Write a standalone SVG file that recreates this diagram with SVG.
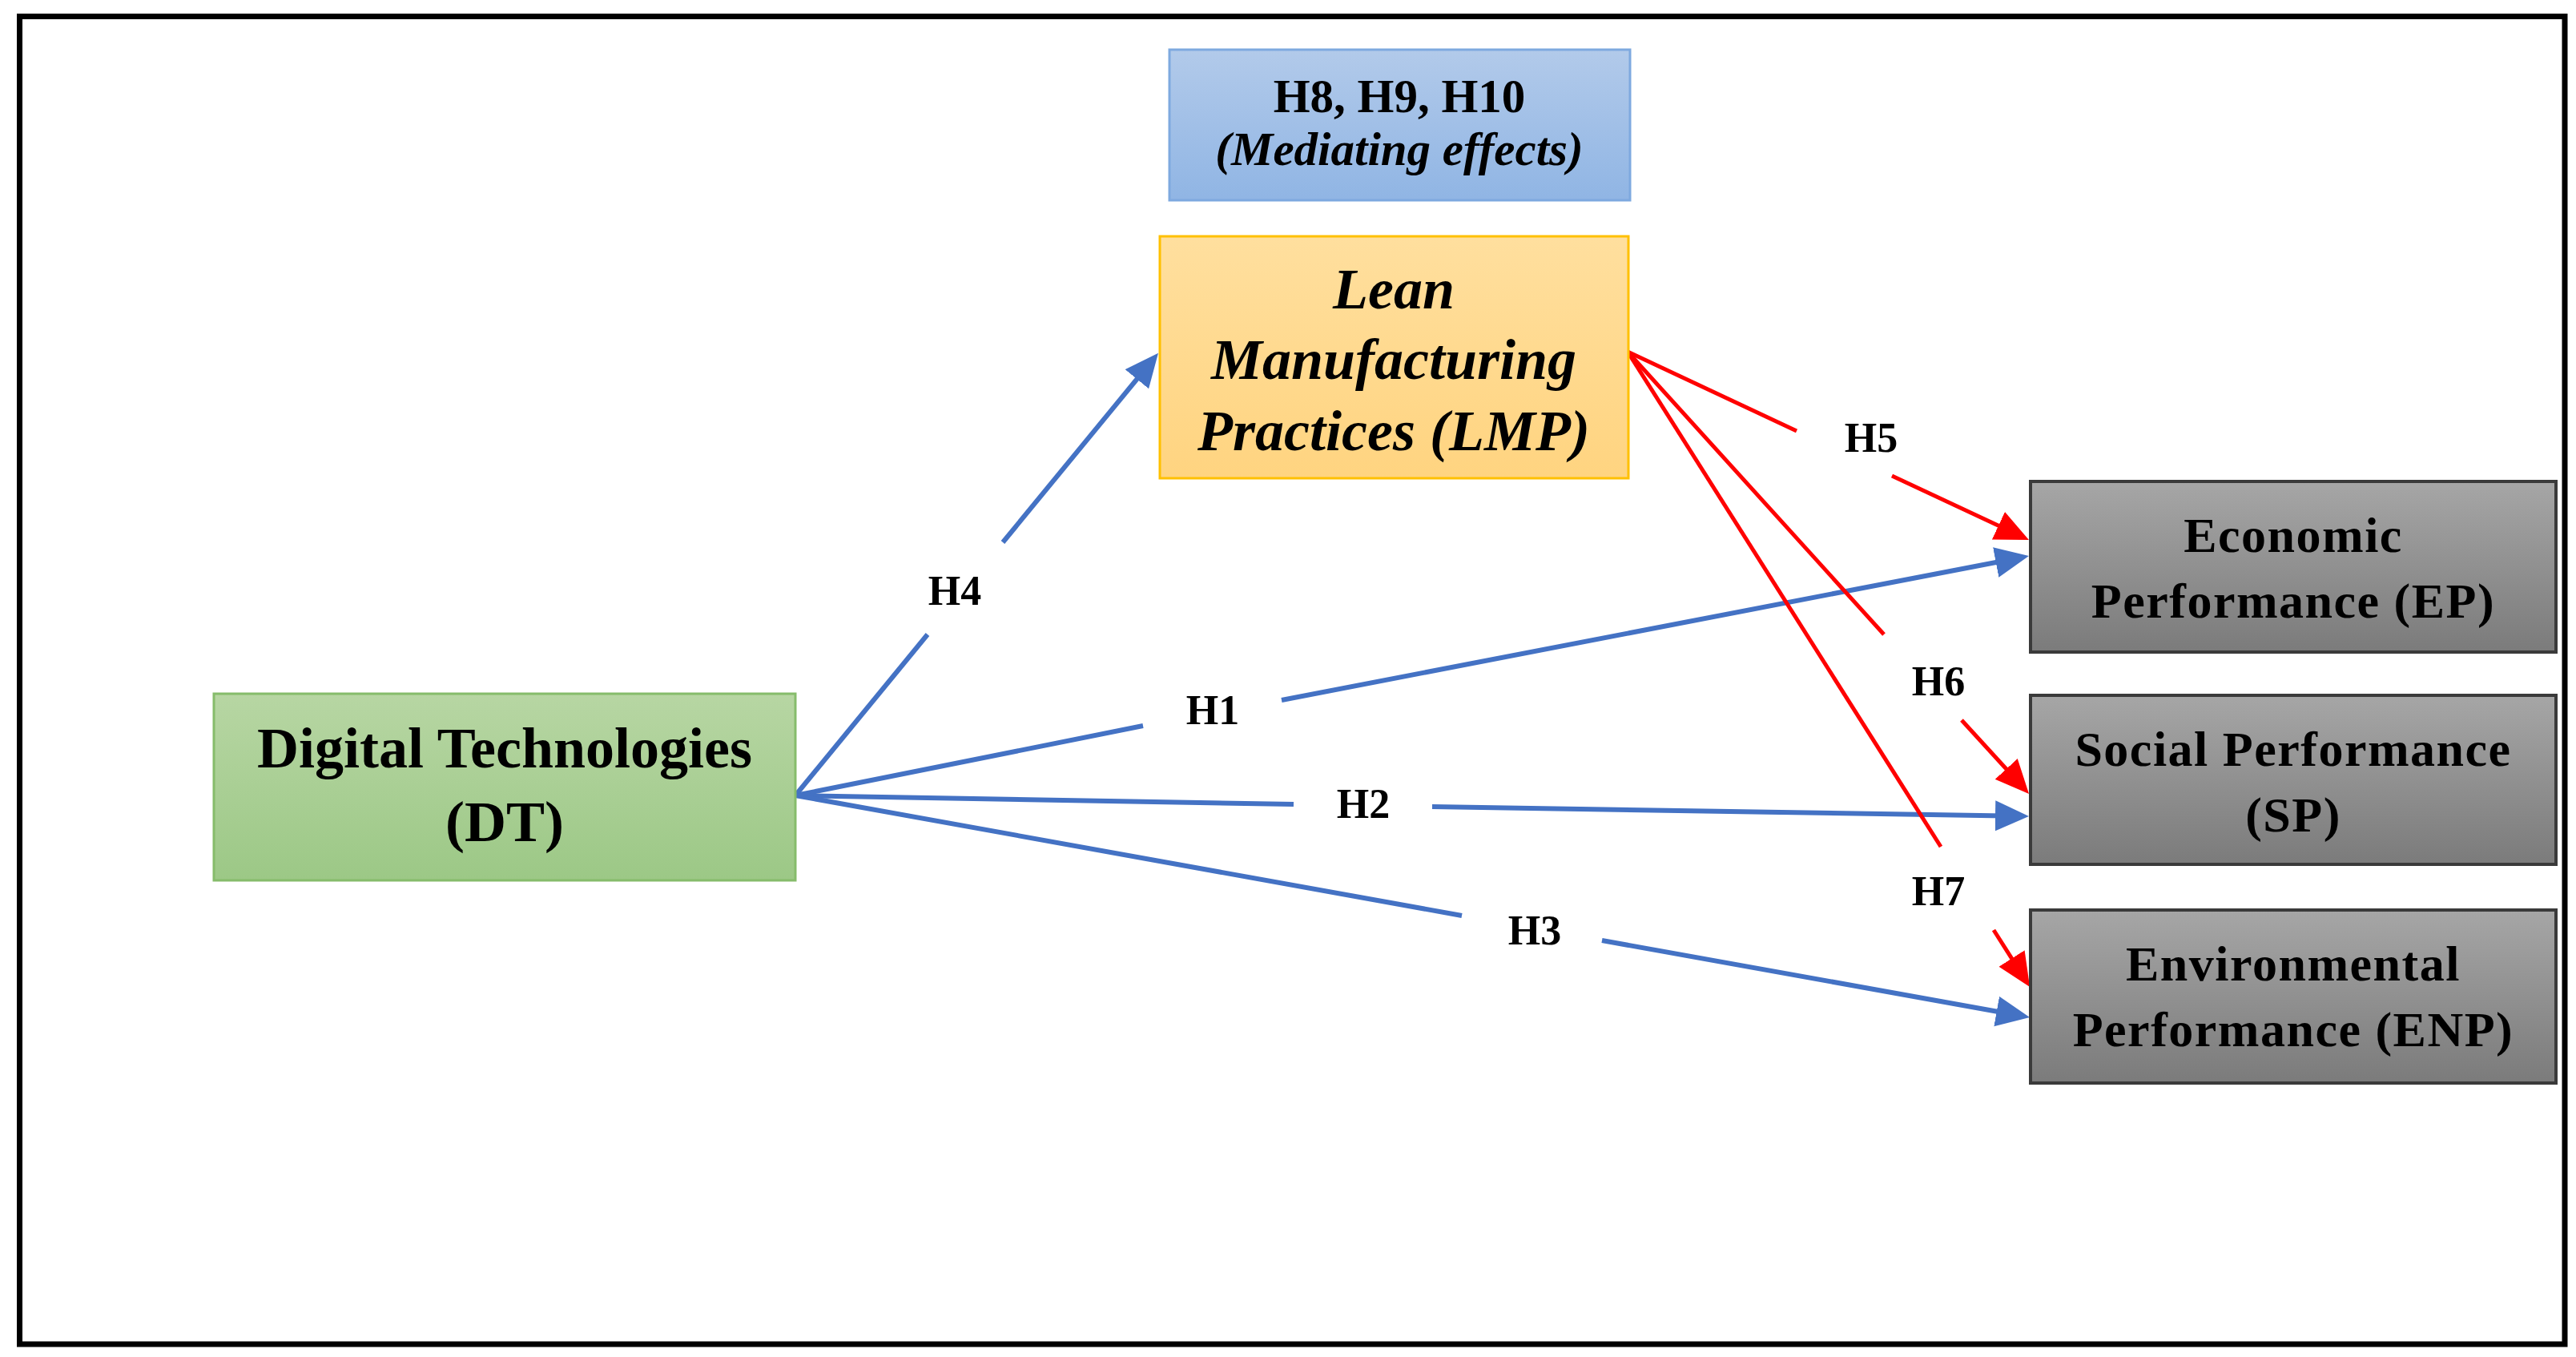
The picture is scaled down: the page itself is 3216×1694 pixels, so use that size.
<svg xmlns="http://www.w3.org/2000/svg" width="3216" height="1694" viewBox="0 0 3216 1694">
<defs>
<style>
.t{font-family:"Liberation Serif","Times New Roman",serif;font-weight:bold;fill:#000;text-anchor:middle}
.i{font-style:italic}
.lbl{font-size:52px}
.perf{font-size:62px;letter-spacing:1.5px}
.blue{stroke:#4472C4;stroke-width:6;fill:none}
.red{stroke:#FF0000;stroke-width:5;fill:none}
</style>
<linearGradient id="gBlue" x1="0" y1="0" x2="0" y2="1"><stop offset="0" stop-color="#B2CAEA"/><stop offset="1" stop-color="#90B5E4"/></linearGradient>
<linearGradient id="gYel" x1="0" y1="0" x2="0" y2="1"><stop offset="0" stop-color="#FFDF9E"/><stop offset="1" stop-color="#FFD480"/></linearGradient>
<linearGradient id="gGrn" x1="0" y1="0" x2="0" y2="1"><stop offset="0" stop-color="#B7D6A3"/><stop offset="1" stop-color="#9CC886"/></linearGradient>
<linearGradient id="gGry" x1="0" y1="0" x2="0" y2="1"><stop offset="0" stop-color="#A6A6A6"/><stop offset="1" stop-color="#7B7B7B"/></linearGradient>
<marker id="aB" markerUnits="userSpaceOnUse" markerWidth="46" markerHeight="40" refX="12" refY="19" orient="auto"><path d="M0,0 L42,19 L0,38 z" fill="#4472C4"/></marker>
<marker id="aR" markerUnits="userSpaceOnUse" markerWidth="46" markerHeight="40" refX="12" refY="19" orient="auto"><path d="M0,0 L42,19 L0,38 z" fill="#FF0000"/></marker>
</defs>
<rect x="0" y="0" width="3216" height="1694" fill="#FFFFFF"/>
<rect id="frame" x="24.5" y="20.5" width="3177.5" height="1657.5" fill="none" stroke="#000" stroke-width="7"/>

<g id="connectors">
<line class="blue" x1="993" y1="993" x2="1158" y2="792"/>
<line class="blue" x1="1252" y1="677" x2="1427" y2="464" marker-end="url(#aB)"/>
<line class="blue" x1="993" y1="993" x2="1427" y2="906"/>
<line class="blue" x1="1600" y1="874" x2="2503.5" y2="699.7" marker-end="url(#aB)"/>
<line class="blue" x1="993" y1="993" x2="1615" y2="1004"/>
<line class="blue" x1="1788" y1="1007" x2="2503" y2="1018.5" marker-end="url(#aB)"/>
<line class="blue" x1="993" y1="993" x2="1825" y2="1143"/>
<line class="blue" x1="2000" y1="1174" x2="2504.5" y2="1264.7" marker-end="url(#aB)"/>
<line class="red" x1="2032" y1="439" x2="2243" y2="538"/>
<line class="red" x1="2362" y1="594" x2="2505.8" y2="661.3" marker-end="url(#aR)"/>
<line class="red" x1="2032" y1="439" x2="2352" y2="792"/>
<line class="red" x1="2449" y1="899" x2="2512.8" y2="968.8" marker-end="url(#aR)"/>
<line class="red" x1="2032" y1="439" x2="2423" y2="1057"/>
<line class="red" x1="2489" y1="1161" x2="2518" y2="1206.6" marker-end="url(#aR)"/>
<text class="t lbl" x="1192" y="755">H4</text>
<text class="t lbl" x="1514" y="904">H1</text>
<text class="t lbl" x="1702" y="1021">H2</text>
<text class="t lbl" x="1916" y="1179">H3</text>
<text class="t lbl" x="2336" y="564">H5</text>
<text class="t lbl" x="2420" y="868">H6</text>
<text class="t lbl" x="2420" y="1130">H7</text>
</g>

<g id="mediating">
<rect x="1460" y="62" width="575" height="188" fill="url(#gBlue)" stroke="#7EA9DF" stroke-width="3"/>
<text class="t" x="1747" y="140" font-size="59">H8, H9, H10</text>
<text class="t i" x="1747" y="206" font-size="59">(Mediating effects)</text>
</g>

<g id="lmp">
<rect x="1448" y="295" width="585" height="302" fill="url(#gYel)" stroke="#FFC000" stroke-width="3"/>
<text class="t i" x="1740" y="385" font-size="72">Lean</text>
<text class="t i" x="1740" y="473" font-size="72">Manufacturing</text>
<text class="t i" x="1740" y="562" font-size="72">Practices (LMP)</text>
</g>

<g id="dt">
<rect x="267" y="866" width="726" height="233" fill="url(#gGrn)" stroke="#86BC6B" stroke-width="3"/>
<text class="t" x="630" y="958" font-size="72">Digital Technologies</text>
<text class="t" x="630" y="1050" font-size="72">(DT)</text>
</g>

<g id="ep">
<rect x="2535" y="601" width="656" height="213" fill="url(#gGry)" stroke="#3A3A3A" stroke-width="4"/>
<text class="t perf" x="2863" y="689">Economic</text>
<text class="t perf" x="2863" y="771">Performance (EP)</text>
</g>

<g id="sp">
<rect x="2535" y="868" width="656" height="211" fill="url(#gGry)" stroke="#3A3A3A" stroke-width="4"/>
<text class="t perf" x="2863" y="956">Social Performance</text>
<text class="t perf" x="2863" y="1038">(SP)</text>
</g>

<g id="enp">
<rect x="2535" y="1136" width="656" height="216" fill="url(#gGry)" stroke="#3A3A3A" stroke-width="4"/>
<text class="t perf" x="2863" y="1224">Environmental</text>
<text class="t perf" x="2863" y="1306">Performance (ENP)</text>
</g>
</svg>
